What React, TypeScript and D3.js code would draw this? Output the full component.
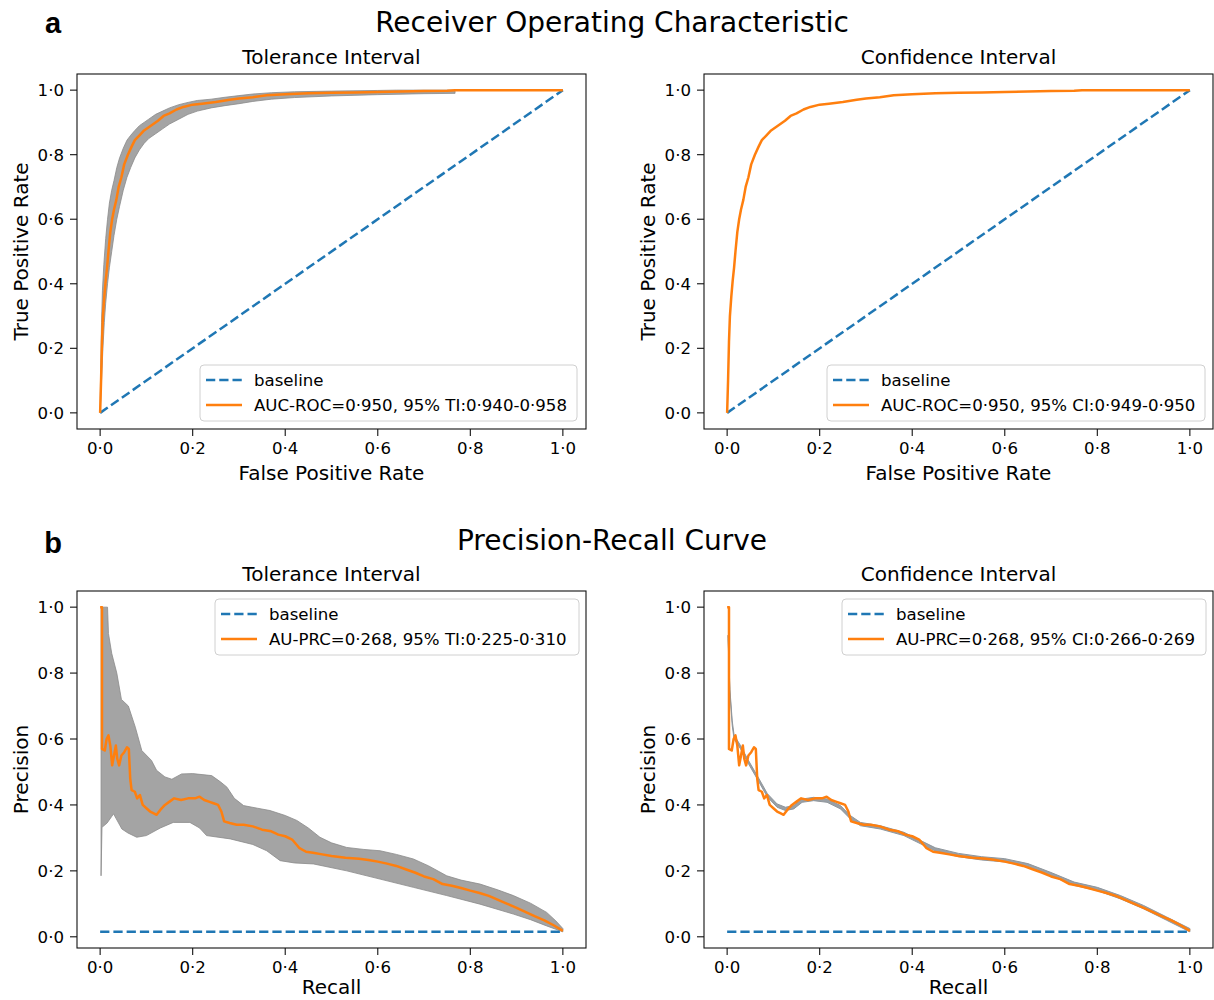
import React from "react";
import * as d3 from "d3";

// ---------- DATA ----------
const axisTicks = [0, 0.2, 0.4, 0.6, 0.8, 1.0];

// ROC curve (shared by both ROC panels)
const rocFpr = [0, 0.002, 0.004, 0.006, 0.009, 0.012, 0.015, 0.018, 0.022, 0.026, 0.03, 0.035, 0.04, 0.046, 0.052, 0.06, 0.068, 0.075, 0.085, 0.095, 0.105, 0.115, 0.125, 0.137, 0.15, 0.165, 0.18, 0.2, 0.22, 0.25, 0.28, 0.3, 0.33, 0.36, 0.4, 0.45, 0.5, 0.55, 0.6, 0.65, 0.7, 0.75, 0.767, 1.0];
const rocTpr = [0, 0.1, 0.22, 0.3, 0.36, 0.41, 0.45, 0.5, 0.56, 0.6, 0.63, 0.66, 0.7, 0.73, 0.77, 0.8, 0.825, 0.845, 0.86, 0.875, 0.885, 0.895, 0.905, 0.92, 0.928, 0.94, 0.948, 0.955, 0.958, 0.963, 0.97, 0.974, 0.978, 0.984, 0.987, 0.99, 0.992, 0.993, 0.994, 0.996, 0.997, 0.998, 1.0, 1.0];

// ROC tolerance interval band
const rocTiUpperFpr = [0, 0.001, 0.003, 0.005, 0.008, 0.012, 0.016, 0.02, 0.025, 0.03, 0.036, 0.042, 0.05, 0.058, 0.066, 0.075, 0.085, 0.095, 0.105, 0.12, 0.135, 0.15, 0.17, 0.19, 0.21, 0.24, 0.27, 0.3, 0.33, 0.37, 0.42, 0.5, 0.6, 0.64, 1.0];
const rocTiUpperTpr = [0, 0.12, 0.28, 0.38, 0.46, 0.54, 0.6, 0.65, 0.69, 0.72, 0.76, 0.79, 0.82, 0.845, 0.86, 0.875, 0.89, 0.9, 0.91, 0.925, 0.935, 0.945, 0.955, 0.962, 0.968, 0.972, 0.978, 0.983, 0.988, 0.992, 0.995, 0.997, 0.999, 1.0, 1.0];
const rocTiLowerFpr = [0, 0.003, 0.006, 0.009, 0.012, 0.016, 0.02, 0.025, 0.03, 0.036, 0.042, 0.05, 0.058, 0.066, 0.075, 0.085, 0.095, 0.105, 0.12, 0.135, 0.15, 0.17, 0.19, 0.21, 0.24, 0.27, 0.3, 0.33, 0.37, 0.42, 0.5, 0.6, 0.7, 0.767, 0.767, 1.0];
const rocTiLowerTpr = [0, 0.1, 0.2, 0.28, 0.34, 0.4, 0.45, 0.5, 0.55, 0.6, 0.64, 0.69, 0.73, 0.76, 0.79, 0.815, 0.835, 0.85, 0.865, 0.88, 0.895, 0.91, 0.925, 0.935, 0.945, 0.952, 0.958, 0.965, 0.972, 0.977, 0.982, 0.986, 0.989, 0.99, 1.0, 1.0];

// Precision-recall curve (shared)
const prRecall = [0, 0.004, 0.004, 0.01, 0.014, 0.018, 0.022, 0.026, 0.03, 0.034, 0.037, 0.041, 0.046, 0.052, 0.058, 0.062, 0.065, 0.068, 0.075, 0.08, 0.086, 0.092, 0.1, 0.108, 0.115, 0.122, 0.13, 0.14, 0.15, 0.16, 0.175, 0.19, 0.205, 0.215, 0.225, 0.235, 0.245, 0.255, 0.262, 0.268, 0.28, 0.295, 0.31, 0.33, 0.35, 0.37, 0.385, 0.4, 0.415, 0.43, 0.445, 0.46, 0.48, 0.5, 0.53, 0.56, 0.58, 0.6, 0.62, 0.64, 0.66, 0.68, 0.7, 0.72, 0.74, 0.76, 0.78, 0.8, 0.82, 0.84, 0.86, 0.88, 0.9, 0.92, 0.94, 0.96, 0.98, 1.0];
const prPrecision = [1.0, 1.0, 0.57, 0.565, 0.6, 0.611, 0.58, 0.52, 0.55, 0.58, 0.54, 0.52, 0.55, 0.56, 0.575, 0.57, 0.48, 0.445, 0.44, 0.42, 0.43, 0.4, 0.39, 0.38, 0.375, 0.37, 0.385, 0.4, 0.41, 0.42, 0.415, 0.42, 0.42, 0.425, 0.415, 0.41, 0.405, 0.4, 0.38, 0.35, 0.345, 0.34, 0.34, 0.335, 0.325, 0.32, 0.31, 0.305, 0.295, 0.27, 0.258, 0.255, 0.25, 0.245, 0.24, 0.237, 0.233, 0.228, 0.222, 0.215, 0.205, 0.195, 0.183, 0.175, 0.16, 0.155, 0.148, 0.14, 0.133, 0.124, 0.112, 0.1, 0.088, 0.075, 0.062, 0.05, 0.035, 0.018];

// PR tolerance interval band
const prTiUpperRecall = [0.002, 0.016, 0.018, 0.025, 0.036, 0.046, 0.061, 0.076, 0.09, 0.111, 0.122, 0.14, 0.155, 0.176, 0.2, 0.241, 0.26, 0.274, 0.29, 0.31, 0.34, 0.367, 0.4, 0.425, 0.45, 0.475, 0.5, 0.533, 0.57, 0.605, 0.64, 0.677, 0.71, 0.749, 0.78, 0.821, 0.86, 0.893, 0.93, 0.965, 0.985, 1.0];
const prTiUpperPrecision = [1.0, 1.0, 0.92, 0.86, 0.8, 0.72, 0.7, 0.636, 0.565, 0.535, 0.505, 0.485, 0.478, 0.494, 0.495, 0.489, 0.47, 0.454, 0.42, 0.398, 0.39, 0.383, 0.368, 0.353, 0.33, 0.302, 0.285, 0.271, 0.265, 0.261, 0.25, 0.236, 0.215, 0.185, 0.172, 0.16, 0.142, 0.125, 0.102, 0.074, 0.048, 0.025];
const prTiLowerRecall = [0.002, 0.004, 0.015, 0.025, 0.029, 0.034, 0.047, 0.06, 0.079, 0.1, 0.13, 0.158, 0.194, 0.215, 0.23, 0.281, 0.33, 0.36, 0.389, 0.42, 0.461, 0.533, 0.605, 0.677, 0.749, 0.821, 0.893, 0.93, 0.965, 1.0];
const prTiLowerPrecision = [0.185, 0.332, 0.345, 0.365, 0.373, 0.36, 0.327, 0.315, 0.302, 0.307, 0.33, 0.347, 0.347, 0.33, 0.307, 0.297, 0.28, 0.261, 0.231, 0.224, 0.221, 0.2, 0.175, 0.15, 0.125, 0.099, 0.069, 0.052, 0.033, 0.015];

// PR confidence interval band (narrow)
const prCiRecall = [0.002, 0.006, 0.011, 0.015, 0.029, 0.044, 0.065, 0.087, 0.108, 0.126, 0.144, 0.162, 0.187, 0.216, 0.245, 0.266, 0.288, 0.331, 0.382, 0.45, 0.5, 0.55, 0.6, 0.65, 0.7, 0.75, 0.8, 0.85, 0.9, 0.95, 1.0];
const prCiUpper = [0.915, 0.75, 0.655, 0.612, 0.58, 0.54, 0.489, 0.434, 0.403, 0.393, 0.398, 0.418, 0.423, 0.418, 0.398, 0.368, 0.347, 0.337, 0.317, 0.27, 0.253, 0.243, 0.237, 0.222, 0.195, 0.166, 0.15, 0.125, 0.095, 0.06, 0.025];
const prCiLower = [0.905, 0.74, 0.641, 0.6, 0.57, 0.53, 0.479, 0.424, 0.393, 0.383, 0.388, 0.408, 0.413, 0.408, 0.388, 0.358, 0.337, 0.327, 0.307, 0.26, 0.243, 0.233, 0.227, 0.212, 0.185, 0.156, 0.14, 0.115, 0.085, 0.05, 0.015];

const prBaseline = 0.015;

const legendBaseline = "baseline";
const legendTexts = [
  "AUC-ROC=0·950, 95% TI:0·940-0·958",
  "AUC-ROC=0·950, 95% CI:0·949-0·950",
  "AU-PRC=0·268, 95% TI:0·225-0·310",
  "AU-PRC=0·268, 95% CI:0·266-0·269",
];
const panelTitles = ["Tolerance Interval", "Confidence Interval", "Tolerance Interval", "Confidence Interval"];
const suptitles = ["Receiver Operating Characteristic", "Precision-Recall Curve"];
const panelLetters = ["a", "b"];

// ---------- STYLE ----------
const ORANGE = "#ff7f0e";
const BLUE = "#1f77b4";
const BAND = "#a4a4a4";
const BAND_EDGE = "#8a8a8a";
const FONT = "DejaVu Sans, Verdana, sans-serif";
const TICK_FS = 16.6;
const LEG_FS = 16.6;

type Box = { x0: number; x1: number; y0: number; y1: number };

const fmt = (v: number) => d3.format(".1f")(v).replace(".", "·");

function zip(xs: number[], ys: number[]): [number, number][] {
  return xs.map((x, i) => [x, ys[i]]);
}

function Axes({ box, yDomain, title, xLabel, yLabel, children, legend }: any) {
  const x = d3.scaleLinear().domain([-0.05, 1.05]).range([box.x0, box.x1]);
  const y = d3.scaleLinear().domain(yDomain).range([box.y1, box.y0]);
  const cx = (box.x0 + box.x1) / 2;
  const cy = (box.y0 + box.y1) / 2;
  return (
    <g>
      {children(x, y)}
      {legend}
      <rect x={box.x0} y={box.y0} width={box.x1 - box.x0} height={box.y1 - box.y0} fill="none" stroke="#111" strokeWidth={1.1} />
      {axisTicks.map((t) => (
        <g key={"x" + t}>
          <line x1={x(t)} x2={x(t)} y1={box.y1} y2={box.y1 + 7} stroke="#111" strokeWidth={1.1} />
          <text x={x(t)} y={box.y1 + 25} textAnchor="middle" fontSize={TICK_FS} fontFamily={FONT}>{fmt(t)}</text>
        </g>
      ))}
      {axisTicks.map((t) => (
        <g key={"y" + t}>
          <line x1={box.x0 - 7} x2={box.x0} y1={y(t)} y2={y(t)} stroke="#111" strokeWidth={1.1} />
          <text x={box.x0 - 13} y={y(t) + 6} textAnchor="end" fontSize={TICK_FS} fontFamily={FONT}>{fmt(t)}</text>
        </g>
      ))}
      <text x={cx} y={box.y0 - 10} textAnchor="middle" fontSize={20} fontFamily={FONT}>{title}</text>
      <text x={cx} y={Math.min(box.y1 + 51, 994)} textAnchor="middle" fontSize={20} fontFamily={FONT}>{xLabel}</text>
      <text transform={`translate(${box.x0 - 49},${cy}) rotate(-90)`} textAnchor="middle" fontSize={20} fontFamily={FONT}>{yLabel}</text>
    </g>
  );
}

function Legend({ x, y, w, label }: { x: number; y: number; w: number; label: string }) {
  return (
    <g>
      <rect x={x} y={y} width={w} height={56} rx={4} fill="#fff" fillOpacity={0.8} stroke="#d0d0d0" strokeWidth={1} />
      <line x1={x + 6} x2={x + 42} y1={y + 15} y2={y + 15} stroke={BLUE} strokeWidth={2.5} strokeDasharray="9.25 4" />
      <text x={x + 54} y={y + 21} fontSize={LEG_FS} fontFamily={FONT}>{legendBaseline}</text>
      <line x1={x + 6} x2={x + 42} y1={y + 40} y2={y + 40} stroke={ORANGE} strokeWidth={2.5} />
      <text x={x + 54} y={y + 46} fontSize={LEG_FS} fontFamily={FONT}>{label}</text>
    </g>
  );
}

export default function App() {
  const rocDomain = [-0.05, 1.05];
  const prDomain = [-0.034, 1.049];
  const boxes: Box[] = [
    { x0: 77, x1: 586, y0: 74, y1: 429 },
    { x0: 704, x1: 1213, y0: 74, y1: 429 },
    { x0: 77, x1: 586, y0: 591, y1: 948 },
    { x0: 704, x1: 1213, y0: 591, y1: 948 },
  ];

  const lineGen = (x: any, y: any) => d3.line<[number, number]>().x((d) => x(d[0])).y((d) => y(d[1]));
  const bandPath = (x: any, y: any, up: [number, number][], lo: [number, number][]) =>
    lineGen(x, y)(up.concat(lo.slice().reverse())) + "Z";

  const rocCurve = zip(rocFpr, rocTpr);
  const prCurve = zip(prRecall, prPrecision);

  const rocContent = (withBand: boolean) => (x: any, y: any) => (
    <g>
      {withBand && (
        <path d={bandPath(x, y, zip(rocTiUpperFpr, rocTiUpperTpr), zip(rocTiLowerFpr, rocTiLowerTpr))} fill={BAND} stroke={BAND_EDGE} strokeWidth={0.8} />
      )}
      <path d={lineGen(x, y)([[0, 0], [1, 1]])!} fill="none" stroke={BLUE} strokeWidth={2.5} strokeDasharray="9.25 4" />
      <path d={lineGen(x, y)(rocCurve)!} fill="none" stroke={ORANGE} strokeWidth={2.5} strokeLinejoin="round" />
    </g>
  );

  const prContent = (ti: boolean) => (x: any, y: any) => (
    <g>
      {ti ? (
        <path d={bandPath(x, y, zip(prTiUpperRecall, prTiUpperPrecision), zip(prTiLowerRecall, prTiLowerPrecision))} fill={BAND} stroke={BAND_EDGE} strokeWidth={0.8} />
      ) : (
        <path d={bandPath(x, y, zip(prCiRecall, prCiUpper), zip(prCiRecall, prCiLower))} fill="#9aa0a6" stroke="#8f969c" strokeWidth={1} />
      )}
      <path d={lineGen(x, y)([[0, prBaseline], [1, prBaseline]])!} fill="none" stroke={BLUE} strokeWidth={2.5} strokeDasharray="9.25 4" />
      <path d={lineGen(x, y)(prCurve)!} fill="none" stroke={ORANGE} strokeWidth={2.5} strokeLinejoin="round" />
    </g>
  );

  return (
    <svg width={1214} height={1000} style={{ position: "absolute", left: 0, top: 0, background: "#fff" }}>
      <rect width={1214} height={1000} fill="#fff" />
      <text x={612} y={32} textAnchor="middle" fontSize={28} fontFamily={FONT}>{suptitles[0]}</text>
      <text x={612} y={550} textAnchor="middle" fontSize={28} fontFamily={FONT}>{suptitles[1]}</text>
      <text x={53} y={33} textAnchor="middle" fontSize={29} fontWeight="bold" fontFamily="Liberation Sans, Arial, sans-serif">{panelLetters[0]}</text>
      <text x={53} y={553} textAnchor="middle" fontSize={29} fontWeight="bold" fontFamily="Liberation Sans, Arial, sans-serif">{panelLetters[1]}</text>

      <Axes box={boxes[0]} yDomain={rocDomain} title={panelTitles[0]} xLabel="False Positive Rate" yLabel="True Positive Rate"
        legend={<Legend x={boxes[0].x1 - 9 - 377} y={boxes[0].y1 - 8 - 56} w={377} label={legendTexts[0]} />}>
        {rocContent(true)}
      </Axes>
      <Axes box={boxes[1]} yDomain={rocDomain} title={panelTitles[1]} xLabel="False Positive Rate" yLabel="True Positive Rate"
        legend={<Legend x={boxes[1].x1 - 8 - 378} y={boxes[1].y1 - 8 - 56} w={378} label={legendTexts[1]} />}>
        {rocContent(false)}
      </Axes>
      <Axes box={boxes[2]} yDomain={prDomain} title={panelTitles[2]} xLabel="Recall" yLabel="Precision"
        legend={<Legend x={boxes[2].x1 - 7 - 364} y={boxes[2].y0 + 8} w={364} label={legendTexts[2]} />}>
        {prContent(true)}
      </Axes>
      <Axes box={boxes[3]} yDomain={prDomain} title={panelTitles[3]} xLabel="Recall" yLabel="Precision"
        legend={<Legend x={boxes[3].x1 - 7 - 364} y={boxes[3].y0 + 8} w={364} label={legendTexts[3]} />}>
        {prContent(false)}
      </Axes>
    </svg>
  );
}
